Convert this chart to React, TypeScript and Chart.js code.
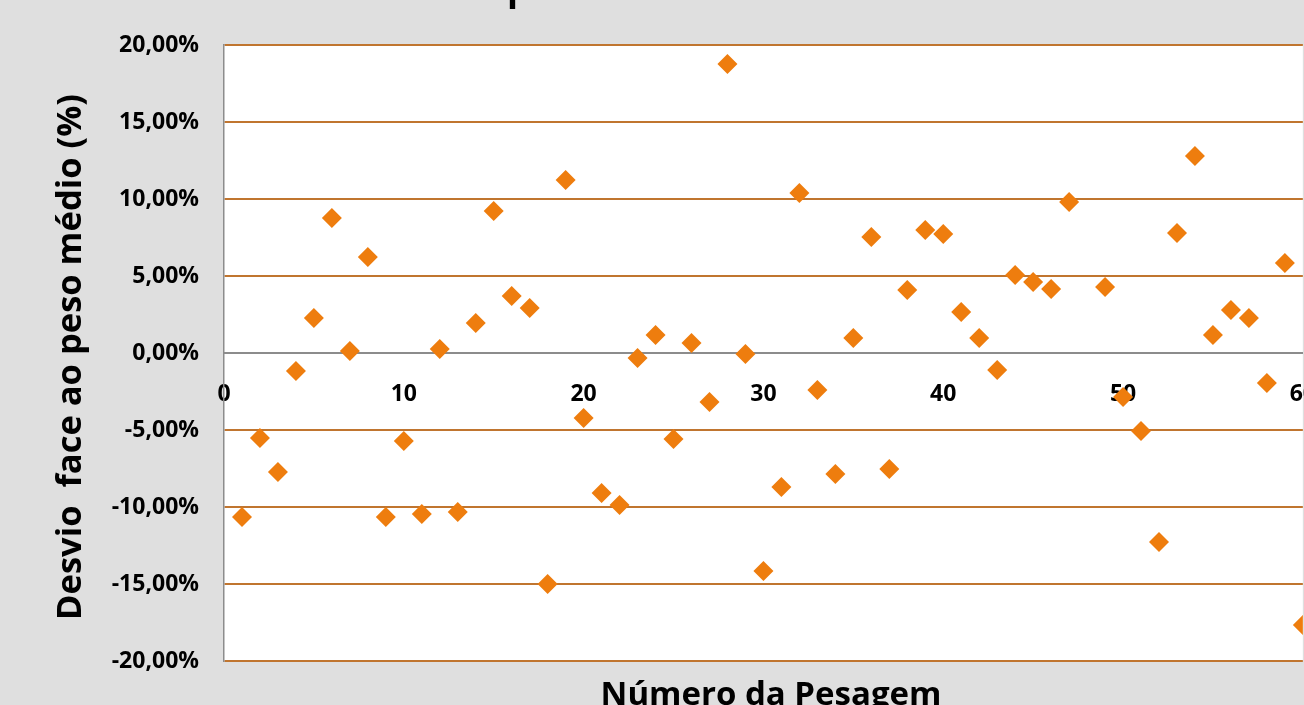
import React, { useEffect, useRef } from "react";
import { Chart, registerables } from "chart.js";

Chart.register(...registerables);

// Número da pesagem (48 is absent in the reference)
const pesagem: number[] = [
  1, 2, 3, 4, 5, 6, 7, 8, 9, 10,
  11, 12, 13, 14, 15, 16, 17, 18, 19, 20,
  21, 22, 23, 24, 25, 26, 27, 28, 29, 30,
  31, 32, 33, 34, 35, 36, 37, 38, 39, 40,
  41, 42, 43, 44, 45, 46, 47, 49, 50,
  51, 52, 53, 54, 55, 56, 57, 58, 59, 60,
];

// Desvio face ao peso médio (%)
const desvio: number[] = [
  -10.65, -5.52, -7.73, -1.17, 2.27, 8.77, 0.13, 6.23, -10.65, -5.71,
  -10.45, 0.26, -10.32, 1.95, 9.22, 3.7, 2.92, -15.0, 11.23, -4.22,
  -9.09, -9.87, -0.32, 1.17, -5.58, 0.65, -3.18, 18.77, -0.06, -14.16,
  -8.7, 10.39, -2.4, -7.86, 0.97, 7.53, -7.53, 4.09, 7.99, 7.73,
  2.66, 0.97, -1.1, 5.06, 4.61, 4.16, 9.81, 4.29, -2.86,
  -5.06, -12.27, 7.79, 12.79, 1.17, 2.79, 2.27, -1.95, 5.84, -17.66,
];

const yTicks: number[] = [-20, -15, -10, -5, 0, 5, 10, 15, 20];
const xTicks: number[] = [0, 10, 20, 30, 40, 50, 60];

const chartTitle = "Desvios face ao peso médio";
const xTitle = "Número da Pesagem";
const yTitle = "Desvio  face ao peso médio (%)";

const FONT = "'Open Sans'";
const BG = "#DFDFDF";
const ORANGE = "#EE7D0E";
const GRID = "#C0752F";
const AXIS = "#8C8C8C";

const fmtPct = (v: number) => v.toFixed(2).replace(".", ",") + "%";

export default function App() {
  const ref = useRef<HTMLCanvasElement | null>(null);

  useEffect(() => {
    const canvas = ref.current;
    if (!canvas) return;

    const decor = {
      id: "decor",
      beforeDraw(chart: any) {
        const { ctx, chartArea, width, height } = chart;
        ctx.save();
        ctx.fillStyle = BG;
        ctx.fillRect(0, 0, width, height);
        ctx.fillStyle = "#FFFFFF";
        ctx.fillRect(
          chartArea.left,
          chartArea.top,
          chartArea.right - chartArea.left,
          chartArea.bottom - chartArea.top
        );
        ctx.restore();
      },
      afterDraw(chart: any) {
        const { ctx, chartArea } = chart;
        ctx.save();
        ctx.fillStyle = "#000000";
        // chart title (mostly above the visible area)
        ctx.font = `bold 36px ${FONT}`;
        ctx.textBaseline = "alphabetic";
        ctx.textAlign = "left";
        const pre = ctx.measureText("Desvios face ao ").width;
        ctx.fillText(chartTitle, 507 - pre, 0);
        // x title
        ctx.font = `bold 33px ${FONT}`;
        ctx.textAlign = "center";
        ctx.fillText(xTitle, 771, chartArea.bottom + 44);
        // y title
        ctx.translate(81, 357);
        ctx.rotate(-Math.PI / 2);
        ctx.font = `bold 34.5px ${FONT}`;
        ctx.textAlign = "center";
        ctx.fillText(yTitle, 0, 0);
        ctx.restore();
      },
    };

    const chart = new Chart(canvas, {
      type: "scatter",
      data: {
        datasets: [
          {
            label: "Desvio",
            data: pesagem.map((p, i) => ({ x: p, y: desvio[i] })),
            pointStyle: "rectRot",
            pointRadius: 10,
            pointHoverRadius: 10,
            backgroundColor: ORANGE,
            borderColor: ORANGE,
            borderWidth: 0,
          },
        ],
      },
      options: {
        animation: false,
        responsive: false,
        devicePixelRatio: 1,
        layout: { padding: { left: 0, right: 16, top: 45, bottom: 59 } },
        plugins: {
          legend: { display: false },
          title: { display: false },
          tooltip: { enabled: false },
        },
        scales: {
          x: {
            type: "linear",
            position: { y: 0 } as any,
            min: 0,
            max: 60,
            afterBuildTicks: (scale: any) => {
              scale.ticks = xTicks.map((v) => ({ value: v }));
            },
            ticks: {
              autoSkip: false,
              maxRotation: 0,
              padding: 28,
              color: "#000000",
              font: { family: FONT, size: 23, weight: "bold" },
              callback: (v: any) => String(v),
            },
            grid: { display: false, drawTicks: false },
            border: { display: true, color: AXIS, width: 2 },
          },
          y: {
            type: "linear",
            min: -20,
            max: 20,
            afterFit: (scale: any) => {
              scale.width = 224;
            },
            afterBuildTicks: (scale: any) => {
              scale.ticks = yTicks.map((v) => ({ value: v }));
            },
            ticks: {
              autoSkip: false,
              padding: 25,
              color: "#000000",
              font: { family: FONT, size: 23, weight: "bold" },
              callback: (v: any) => fmtPct(Number(v)),
            },
            grid: {
              drawTicks: false,
              lineWidth: 2,
              color: (c: any) =>
                c.tick && c.tick.value === 0 ? "rgba(0,0,0,0)" : GRID,
            },
            border: { display: true, color: AXIS, width: 1.5 },
          },
        },
      },
      plugins: [decor],
    });

    return () => chart.destroy();
  }, []);

  return (
    <div
      style={{
        position: "fixed",
        left: 0,
        top: 0,
        width: 1304,
        height: 705,
        overflow: "hidden",
        background: BG,
      }}
    >
      <canvas
        ref={ref}
        width={1344}
        height={720}
        style={{ display: "block", width: 1344, height: 720 }}
      />
    </div>
  );
}
